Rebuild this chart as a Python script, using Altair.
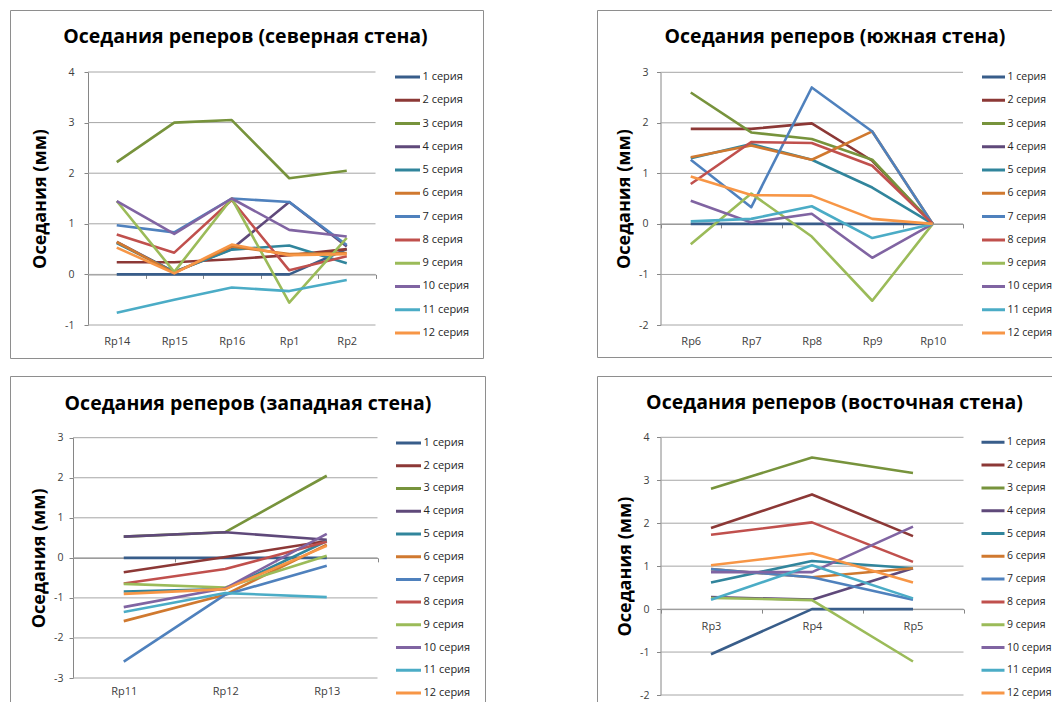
import altair as alt
import pandas as pd

FONT = "Open Sans"

SERIES = ["1 серия", "2 серия", "3 серия", "4 серия", "5 серия", "6 серия",
          "7 серия", "8 серия", "9 серия", "10 серия", "11 серия", "12 серия"]
COLORS = ["#385D8A", "#8C3836", "#77933C", "#5F497A", "#31859C", "#D0792F",
          "#4F81BD", "#C0504D", "#9BBB59", "#8064A2", "#4BACC6", "#F79646"]

# ---- северная стена ----
north_points = ["Rp14", "Rp15", "Rp16", "Rp1", "Rp2"]
north_values = [
    [0.0, 0.0, 0.0, 0.0, 0.5],
    [0.24, 0.24, 0.3, 0.38, 0.5],
    [2.22, 3.0, 3.05, 1.9, 2.05],
    [0.64, 0.05, 0.5, 1.43, 0.55],
    [0.62, 0.05, 0.49, 0.57, 0.22],
    [0.64, 0.03, 0.55, 0.4, 0.42],
    [0.97, 0.83, 1.5, 1.43, 0.58],
    [0.79, 0.43, 1.47, 0.08, 0.36],
    [1.45, 0.05, 1.5, -0.56, 0.72],
    [1.45, 0.8, 1.5, 0.88, 0.75],
    [-0.76, -0.5, -0.26, -0.33, -0.11],
    [0.53, 0.02, 0.59, 0.38, 0.4],
]

# ---- южная стена ----
south_points = ["Rp6", "Rp7", "Rp8", "Rp9", "Rp10"]
south_values = [
    [0.0, 0.0, 0.0, 0.0, 0.0],
    [1.88, 1.88, 1.99, 1.25, 0.0],
    [2.6, 1.81, 1.68, 1.27, 0.0],
    [None, None, None, None, None],
    [1.3, 1.58, 1.27, 0.72, 0.0],
    [1.32, 1.55, 1.27, 1.83, 0.0],
    [1.27, 0.33, 2.7, 1.83, 0.0],
    [0.79, 1.62, 1.6, 1.15, 0.0],
    [-0.4, 0.6, -0.25, -1.52, 0.0],
    [0.46, 0.03, 0.2, -0.67, 0.0],
    [0.05, 0.1, 0.35, -0.28, 0.0],
    [0.94, 0.57, 0.56, 0.1, 0.0],
]

# ---- западная стена ----
west_points = ["Rp11", "Rp12", "Rp13"]
west_values = [
    [0.0, 0.0, 0.0],
    [-0.36, 0.02, 0.42],
    [0.53, 0.64, 2.05],
    [0.53, 0.64, 0.45],
    [-0.84, -0.78, 0.42],
    [-1.58, -0.92, 0.33],
    [-2.59, -0.92, -0.2],
    [-0.64, -0.28, 0.4],
    [-0.65, -0.74, 0.05],
    [-1.23, -0.76, 0.6],
    [-1.35, -0.88, -0.98],
    [-0.9, -0.78, 0.3],
]

# ---- восточная стена ----
east_points = ["Rp3", "Rp4", "Rp5"]
east_values = [
    [-1.05, 0.0, 0.0],
    [1.89, 2.67, 1.7],
    [2.8, 3.53, 3.17],
    [0.28, 0.22, 0.95],
    [0.62, 1.12, 0.95],
    [0.93, 0.74, 0.95],
    [0.93, 0.74, 0.22],
    [1.73, 2.02, 1.1],
    [0.26, 0.21, -1.22],
    [0.86, 0.86, 1.92],
    [0.22, 1.02, 0.25],
    [1.02, 1.3, 0.62],
]

GRID = "#a6a6a6"
AXIS = "#868686"
FRAME = "#8e8e8e"
TEXT = "#404040"

W, H = 1044, 694   # whole drawing area; keeps the page inside the 1060x718 window


def to_frame(points, values):
    rows = []
    for name, vals in zip(SERIES, values):
        for p, v in zip(points, vals):
            rows.append({"point": p, "series": name, "value": v})
    return pd.DataFrame(rows)


def hrule(y, x1, x2):
    return alt.Chart(alt.Data(values=[{}])).mark_rule(color=FRAME, strokeWidth=1).encode(
        x=alt.value(x1), x2=alt.value(x2), y=alt.value(y))


def vrule(x, y1, y2):
    return alt.Chart(alt.Data(values=[{}])).mark_rule(color=FRAME, strokeWidth=1).encode(
        x=alt.value(x), y=alt.value(y1), y2=alt.value(y2))


def heading(text, cx, baseline_y):
    return alt.Chart(alt.Data(values=[{}])).mark_text(
        font=FONT, fontSize=19.5, fontWeight="bold", color="#000000",
        align="center", baseline="alphabetic").encode(
        x=alt.value(cx), y=alt.value(baseline_y), text=alt.value(text))


def panel(title, points, values, ymin, ymax, xr, yr, frame, *, head,
          label_pad, title_pad, legend_xy, xlabel_c, row_pad=7.27,
          sym_size=625, leg_font=11):
    df = to_frame(points, values)
    y_scale = alt.Scale(domain=[ymin, ymax], nice=False, zero=False, range=[yr[0], yr[1]])
    zero_y = yr[0] + (yr[1] - yr[0]) * (0 - ymin) / (ymax - ymin)
    y_axis = alt.Axis(title="Оседания (мм)", orient="left",
                      values=list(range(ymin, ymax + 1)),
                      labelExpr="'' + datum.value", grid=False,
                      domainColor=AXIS, tickColor=AXIS, tickSize=4,
                      labelPadding=label_pad, labelFontSize=10.5, labelColor=TEXT,
                      titleFontSize=18, titleFontWeight="bold", titleColor="#000000",
                      titlePadding=title_pad, offset=-xr[0])
    ticks = pd.DataFrame({"value": list(range(ymin, ymax + 1))})

    grid = alt.Chart(ticks).mark_rule(color=GRID, strokeWidth=1).encode(
        y=alt.Y("value:Q", scale=y_scale, axis=y_axis),
        x=alt.value(xr[0]), x2=alt.value(xr[1]))

    lines = alt.Chart(df).mark_line(strokeWidth=2.6, strokeJoin="round").encode(
        x=alt.X("point:N", sort=points, bandPosition=0.5,
                scale=alt.Scale(type="band", paddingInner=0, paddingOuter=0,
                                range=[xr[0], xr[1]]),
                axis=alt.Axis(title=None, orient="bottom", labelAngle=0,
                              ticks=True, tickBand="extent", tickSize=4, tickColor=AXIS,
                              domain=True, domainColor=AXIS, grid=False,
                              labelPadding=xlabel_c - zero_y - 10.5,
                              labelFontSize=11, labelColor=TEXT,
                              offset=-(H - zero_y))),
        y=alt.Y("value:Q", scale=y_scale, axis=y_axis),
        color=alt.Color("series:N", sort=SERIES,
                        scale=alt.Scale(domain=SERIES, range=COLORS),
                        legend=alt.Legend(title=None, orient="none",
                                          legendX=legend_xy[0], legendY=legend_xy[1],
                                          symbolType="stroke", symbolSize=sym_size,
                                          symbolStrokeWidth=3, clipHeight=16,
                                          rowPadding=row_pad, padding=0, symbolOffset=0,
                                          labelOffset=1, labelFontSize=leg_font,
                                          labelColor="#262626", labelFont=FONT)),
    )
    return alt.layer(grid, lines, heading(title, head[0], head[1]), *frame)


# coordinates below are relative to the drawing origin (page x-8, y-8)
p1 = panel("Оседания реперов (северная стена)", north_points, north_values, -1, 4,
           (80, 367.5), (317, 64),
           [hrule(2.5, 2.5, 475.5), hrule(350.5, 2.5, 475.5),
            vrule(2.5, 2.5, 350.5), vrule(475.5, 2.5, 350.5)],
           head=(237.5, 35), label_pad=10, title_pad=15,
           legend_xy=(385.5, 61), xlabel_c=334)

p2 = panel("Оседания реперов (южная стена)", south_points, south_values, -2, 3,
           (652.5, 955), (317, 64.3),
           [hrule(2.5, 589.5, W), hrule(349.5, 589.5, W), vrule(589.5, 2.5, 349.5)],
           head=(827, 35), label_pad=8.5, title_pad=5,
           legend_xy=(972.5, 61), xlabel_c=334, sym_size=529, leg_font=10.5)

p3 = panel("Оседания реперов (западная стена)", west_points, west_values, -3, 3,
           (65, 369.5), (670, 429.7),
           [hrule(368.5, 2.5, 477.5), vrule(2.5, 368.5, H), vrule(477.5, 368.5, H)],
           head=(240, 401.5), label_pad=6, title_pad=5,
           legend_xy=(386.5, 427), xlabel_c=684, row_pad=6.73)

p4 = panel("Оседания реперов (восточная стена)", east_points, east_values, -2, 4,
           (652.5, 955.5), (687, 429.3),
           [hrule(368.5, 589.5, W), vrule(589.5, 368.5, H)],
           head=(826.5, 401), label_pad=7.5, title_pad=5,
           legend_xy=(972, 426.3), xlabel_c=618.8,
           row_pad=6.8, sym_size=529, leg_font=10.5)

chart = (
    alt.layer(p1, p2, p3, p4)
    .resolve_scale(x="independent", y="independent", color="independent")
    .properties(width=W, height=H, padding=0, background="#ffffff",
                autosize=alt.AutoSizeParams(type="none"))
    .configure_view(stroke=None)
    .configure_axis(labelFont=FONT, titleFont=FONT)
)

chart.save("out.html", embed_options={"renderer": "svg", "actions": False})
